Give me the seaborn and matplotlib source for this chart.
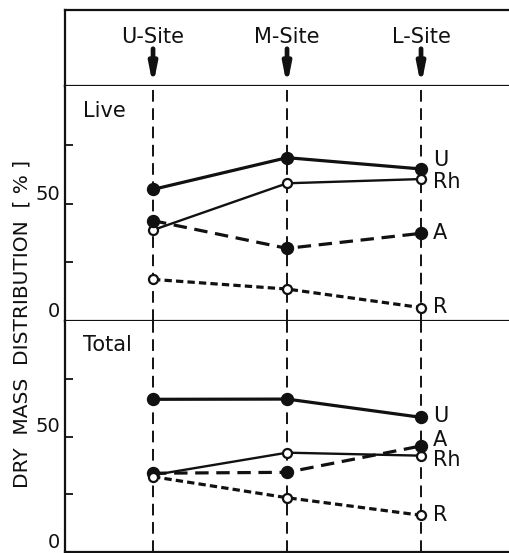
import numpy as np
import pandas as pd
import matplotlib
matplotlib.use("Agg")
import matplotlib.pyplot as plt
import seaborn as sns

# ---------------- data ----------------
sites = ["U-Site", "M-Site", "L-Site"]
series = ["U", "Rh", "A", "R"]
panels = ["Live", "Total"]

live_U = [56.0, 69.5, 64.7]
live_Rh = [38.7, 58.6, 60.4]
live_A = [42.7, 30.9, 37.3]
live_R = [17.7, 13.6, 5.7]

total_U = [66.1, 66.2, 58.3]
total_Rh = [33.3, 43.0, 41.7]
total_A = [34.1, 34.5, 45.9]
total_R = [32.6, 23.5, 15.9]

y_ticks = [0, 25, 50, 75]
y_ticklabels = ["0", "", "50", ""]
y_label = "DRY  MASS  DISTRIBUTION  [ % ]"

# ---------------- style ----------------
sns.set_style("white")
plt.rcParams["font.family"] = ["DejaVu Sans"]

INK = "#111111"
styles = {
    "U": dict(lw=2.3, linestyle="-", mfc=INK, ms=8),
    "Rh": dict(lw=1.7, linestyle="-", mfc="white", ms=6.5),
    "A": dict(lw=2.3, linestyle=(0, (4.2, 2.4)), mfc=INK, ms=8),
    "R": dict(lw=2.3, linestyle=(0, (2.3, 1.3)), mfc="white", ms=6.5),
}
label_offsets = {
    "Live": {"U": 3.6, "Rh": -1.2, "A": 0.0, "R": 0.3},
    "Total": {"U": 0.6, "Rh": -2.0, "A": 2.6, "R": 0.0},
}

data = {
    "Live": {"U": live_U, "Rh": live_Rh, "A": live_A, "R": live_R},
    "Total": {"U": total_U, "Rh": total_Rh, "A": total_A, "R": total_R},
}

W, H = 510, 553
fig = plt.figure(figsize=(W / 100, H / 100), dpi=100)
fig.patch.set_facecolor("white")

def fx(px):
    return px / W

def fy(py):
    return 1 - py / H

left_px, right_px = 65, 510
xlim = (-0.657, 2.664)

ax_h = fig.add_axes([fx(left_px), fy(86), fx(right_px - left_px), fy(10) - fy(86)])
ax_live = fig.add_axes([fx(left_px), fy(321), fx(right_px - left_px), fy(86) - fy(321)])
ax_tot = fig.add_axes([fx(left_px), fy(552), fx(right_px - left_px), fy(321) - fy(552)])

x_pos = np.arange(len(sites))

# header
ax_h.set_xlim(*xlim)
ax_h.set_ylim(0, 1)
ax_h.set_xticks([])
ax_h.set_yticks([])
for s in ["top", "left", "bottom"]:
    ax_h.spines[s].set_linewidth(1.6)
    ax_h.spines[s].set_color(INK)
ax_h.spines["right"].set_visible(False)
for i, name in enumerate(sites):
    ax_h.text(x_pos[i], 0.645, name, ha="center", va="center", fontsize=15, color=INK)
    ax_h.annotate("", xy=(x_pos[i], 0.0), xytext=(x_pos[i], 0.49),
                  arrowprops=dict(arrowstyle="-|>,head_length=0.55,head_width=0.11",
                                  lw=3.4, color=INK, shrinkA=0, shrinkB=0,
                                  mutation_scale=20))

for ax, panel in [(ax_live, "Live"), (ax_tot, "Total")]:
    ax.set_facecolor("white")
    ax.set_xlim(*xlim)
    ax.set_ylim(0, 100)
    for xi in x_pos:
        ax.axvline(xi, color=INK, lw=1.4, linestyle=(0, (6.0, 3.4)), zorder=1)
    for name in series:
        st = styles[name]
        df = pd.DataFrame({"x": x_pos, "y": data[panel][name]})
        sns.lineplot(data=df, x="x", y="y", ax=ax, color=INK, lw=st["lw"],
                     linestyle=st["linestyle"], marker="o", markersize=st["ms"],
                     markerfacecolor=st["mfc"], markeredgecolor=INK,
                     markeredgewidth=1.6, zorder=3)
        ax.text(x_pos[-1] + 0.09, data[panel][name][-1] + label_offsets[panel][name],
                name, ha="left", va="center", fontsize=15, color=INK)
    ax.text(-0.522, 87, panel, ha="left", va="baseline", fontsize=15, color=INK)
    ax.set_xticks([])
    ax.set_xlabel("")
    ax.set_ylabel("")
    ax.set_yticks(y_ticks)
    ax.set_yticklabels(y_ticklabels)
    ax.tick_params(axis="y", direction="in", length=6, width=1.3, pad=3.5,
                   labelsize=14, colors=INK, left=True)
    for lab in ax.get_yticklabels():
        lab.set_va("bottom")
    ax.spines["right"].set_visible(False)
    ax.spines["top"].set_visible(False)
    for s in ["left", "bottom"]:
        ax.spines[s].set_linewidth(1.6)
        ax.spines[s].set_color(INK)

fig.text(fx(22), fy(324), y_label, rotation=90, ha="center", va="center",
         fontsize=14.5, color=INK)

fig.savefig("out.png", dpi=100, facecolor="white")
